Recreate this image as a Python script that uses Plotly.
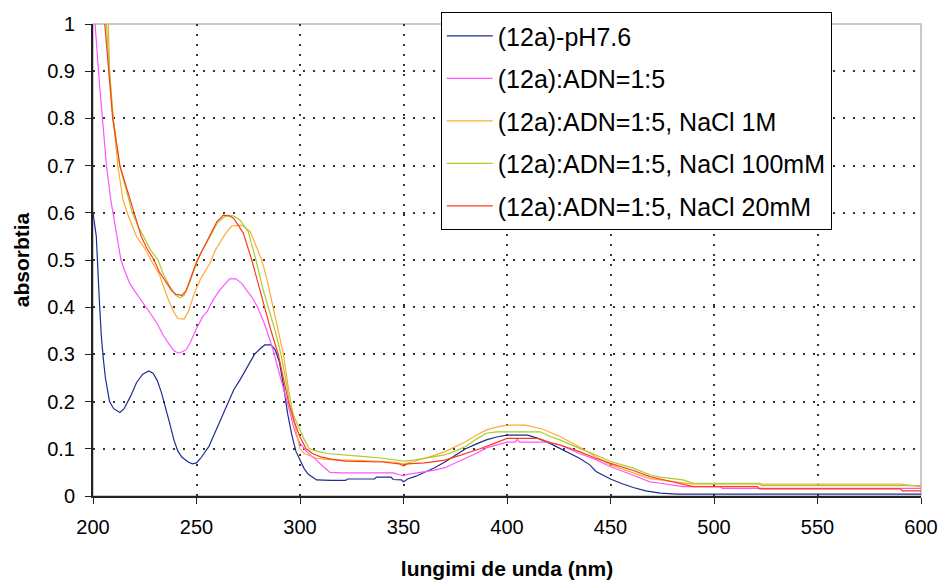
import plotly.graph_objects as go

# UV-Vis absorption spectra of compound (12a) with DNA at different NaCl concentrations

wl_ph76 = [200, 201.6, 203, 204, 205, 206, 208, 210, 213, 215, 218, 221, 224, 227, 229, 231, 233, 235,
           237, 239, 241, 243, 246, 248, 250, 252, 254, 256, 258, 260, 263, 265.4, 268, 271, 274, 276,
           278, 281, 283, 286, 288, 290, 292, 294, 296, 298, 300, 302, 304, 306, 308, 315, 322, 323,
           336, 337, 344, 345, 349, 350, 352, 356, 360, 365, 370, 375, 380, 385, 390, 395, 400, 410,
           415, 420, 425, 430, 435, 440, 443, 450, 455, 461, 467, 474, 482, 520, 600]
abs_ph76 = [0.60, 0.55, 0.42, 0.34, 0.29, 0.25, 0.20, 0.185, 0.177, 0.185, 0.21, 0.24, 0.258, 0.265, 0.26,
            0.245, 0.22, 0.19, 0.155, 0.12, 0.095, 0.082, 0.072, 0.068, 0.07, 0.08, 0.092, 0.105, 0.125,
            0.145, 0.175, 0.20, 0.225, 0.246, 0.268, 0.285, 0.30, 0.313, 0.32, 0.32, 0.31, 0.285, 0.235,
            0.175, 0.13, 0.095, 0.076, 0.058, 0.046, 0.039, 0.034, 0.033, 0.033, 0.036, 0.036, 0.04, 0.04,
            0.035, 0.034, 0.03, 0.036, 0.042, 0.05, 0.06, 0.072, 0.086, 0.10, 0.11, 0.119, 0.125, 0.129,
            0.129, 0.122, 0.113, 0.102, 0.092, 0.08, 0.066, 0.052, 0.036, 0.027, 0.018, 0.011, 0.006,
            0.004, 0.004, 0.004]

wl_adn = [200, 201, 203, 204.7, 206.5, 208.5, 209.7, 211.5, 213.5, 215.5, 217.7, 220, 222.5, 225.6, 228,
          231, 234, 237, 239, 241, 243, 245, 247, 250, 253, 255, 258, 261, 264, 266, 269, 272, 274, 277,
          279.5, 281.5, 284, 287, 290, 292.8, 295, 296.8, 298.5, 300, 303, 306, 308, 311, 314.5, 320, 345,
          348, 350, 352, 360, 365, 370, 375, 380, 385, 390, 395, 400, 404, 405, 406, 420, 425.6, 435, 443,
          450, 461, 469, 474, 485, 503, 504, 600]
abs_adn = [1.05, 1.0, 0.88, 0.80, 0.70, 0.63, 0.60, 0.55, 0.50, 0.475, 0.451, 0.435, 0.42, 0.40, 0.385,
           0.365, 0.34, 0.32, 0.308, 0.303, 0.305, 0.31, 0.325, 0.355, 0.38, 0.39, 0.415, 0.435, 0.45, 0.46,
           0.46, 0.45, 0.437, 0.42, 0.40, 0.38, 0.35, 0.309, 0.26, 0.218, 0.18, 0.147, 0.125, 0.112, 0.095,
           0.083, 0.076, 0.063, 0.05, 0.049, 0.049, 0.045, 0.043, 0.046, 0.051, 0.055, 0.06, 0.07, 0.08,
           0.09, 0.102, 0.108, 0.114, 0.114, 0.12, 0.114, 0.114, 0.108, 0.09, 0.077, 0.062, 0.044, 0.03,
           0.027, 0.02, 0.02, 0.016, 0.016]

wl_nacl1m = [200, 204, 207.4, 208, 209.8, 212, 214.5, 216.5, 221, 225, 228, 232, 236, 239, 241, 244, 246,
             249, 252, 256.5, 259, 261.5, 264, 267, 272, 276, 279, 281.5, 284, 287, 290, 292, 294, 295.5,
             297, 299, 300, 302, 305, 308, 312, 318, 325, 335, 345, 350, 355, 360, 365, 370, 375, 380,
             385, 390, 395, 400, 409, 412.7, 417, 425.6, 435, 443, 450, 461, 469, 474, 490, 590, 600]
abs_nacl1m = [1.25, 1.1, 1.0, 0.9, 0.8, 0.7, 0.627, 0.60, 0.55, 0.525, 0.50, 0.47, 0.42, 0.39, 0.376,
              0.375, 0.39, 0.43, 0.46, 0.493, 0.52, 0.539, 0.556, 0.572, 0.574, 0.56, 0.528, 0.50, 0.46,
              0.40, 0.34, 0.30, 0.24, 0.20, 0.16, 0.12, 0.10, 0.09, 0.085, 0.08, 0.078, 0.076, 0.076,
              0.074, 0.072, 0.068, 0.073, 0.08, 0.086, 0.094, 0.104, 0.115, 0.128, 0.14, 0.146, 0.15, 0.15,
              0.146, 0.142, 0.126, 0.104, 0.083, 0.066, 0.049, 0.037, 0.034, 0.025, 0.025, 0.02]

wl_nacl100 = [200, 206.5, 208, 209.7, 212.9, 216, 219, 222, 225, 228, 231.4, 234, 237, 240, 242, 244, 246,
              249, 252, 256, 260, 263, 265, 268, 271, 275, 278.7, 282, 284.7, 288, 290.8, 293, 294.8, 297,
              300, 302, 304.5, 308, 313, 320, 330, 340, 348, 350, 355, 360, 365, 370, 375, 380, 385, 390,
              395, 400, 416, 420.8, 425.6, 435, 443, 450, 461, 469, 474, 485, 490, 522, 523, 600]
abs_nacl100 = [1.3, 1.0, 0.9, 0.8, 0.7, 0.65, 0.60, 0.57, 0.545, 0.52, 0.50, 0.47, 0.445, 0.425, 0.42,
               0.425, 0.445, 0.48, 0.515, 0.545, 0.578, 0.59, 0.595, 0.593, 0.585, 0.56, 0.50, 0.44, 0.40,
               0.35, 0.30, 0.25, 0.20, 0.17, 0.14, 0.12, 0.10, 0.095, 0.09, 0.087, 0.084, 0.08, 0.075,
               0.074, 0.076, 0.08, 0.083, 0.087, 0.095, 0.105, 0.12, 0.133, 0.136, 0.136, 0.136, 0.126,
               0.119, 0.101, 0.087, 0.073, 0.059, 0.045, 0.04, 0.034, 0.027, 0.027, 0.022, 0.022]

wl_nacl20 = [200, 205.8, 207.9, 209.5, 213, 218, 220, 223.3, 226, 229.5, 232, 235, 238, 240, 243, 245, 247,
             250, 255, 259.8, 263, 266, 268, 272.6, 276.7, 280, 283, 286, 289.5, 292, 294.4, 297, 300, 303,
             306, 310, 315, 322, 340, 348, 350, 352, 360, 365, 370, 375, 380, 387, 393, 400, 415, 420.8,
             425.6, 435, 443, 450, 461, 469, 474, 490, 521, 522, 590, 591, 600]
abs_nacl20 = [1.3, 1.0, 0.9, 0.8, 0.7, 0.627, 0.60, 0.55, 0.525, 0.50, 0.475, 0.455, 0.435, 0.427, 0.425,
              0.435, 0.46, 0.496, 0.539, 0.581, 0.595, 0.593, 0.588, 0.557, 0.50, 0.445, 0.40, 0.35, 0.30,
              0.25, 0.20, 0.16, 0.125, 0.10, 0.09, 0.083, 0.078, 0.074, 0.072, 0.068, 0.064, 0.068, 0.07,
              0.073, 0.076, 0.083, 0.09, 0.10, 0.11, 0.122, 0.122, 0.113, 0.108, 0.094, 0.08, 0.069, 0.054,
              0.041, 0.036, 0.02, 0.02, 0.015, 0.015, 0.011, 0.011]

series_names = ["(12a)-pH7.6", "(12a):ADN=1:5", "(12a):ADN=1:5, NaCl 1M",
                "(12a):ADN=1:5, NaCl 100mM", "(12a):ADN=1:5, NaCl 20mM"]
series_x = [wl_ph76, wl_adn, wl_nacl1m, wl_nacl100, wl_nacl20]
series_y = [abs_ph76, abs_adn, abs_nacl1m, abs_nacl100, abs_nacl20]
series_colors = ["#1f2d8c", "#ff55ff", "#ffaa33", "#a8cc2a", "#ff3a1a"]

x_ticks = [200, 250, 300, 350, 400, 450, 500, 550, 600]
y_ticks = [0, 0.1, 0.2, 0.3, 0.4, 0.5, 0.6, 0.7, 0.8, 0.9, 1]

FONT = "Liberation Sans, Arial, sans-serif"

fig = go.Figure()
for i, (name, xs, ys, col) in enumerate(zip(series_names, series_x, series_y, series_colors)):
    fig.add_trace(go.Scatter(
        x=xs, y=ys, name=name, mode="lines",
        line=dict(color=col, width=1.2),
        legendgroup=f"g{i}",
    ))

axis_common = dict(
    showline=True, linecolor="#222222", linewidth=2,
    ticks="outside", ticklen=6, tickcolor="#222222", tickwidth=1,
    showgrid=True, gridcolor="#333333", gridwidth=1.5, griddash="2px,8px",
    zeroline=False, automargin=False,
    tickfont=dict(family=FONT, size=20, color="#000000"),
)

fig.update_xaxes(
    range=[200, 600], tickvals=x_ticks, ticktext=[str(v) for v in x_ticks],
    title=dict(text="<b>lungimi de unda (nm)</b>", font=dict(family=FONT, size=21, color="#000000"),
               standoff=29),
    ticklabelstandoff=6,
    **axis_common,
)
fig.update_yaxes(
    range=[0, 1], tickvals=y_ticks, ticktext=[f"{v:g}" for v in y_ticks],
    title=dict(text="<b>absorbtia</b>", font=dict(family=FONT, size=21, color="#000000"), standoff=12),
    ticklabelstandoff=6,
    **axis_common,
)

# thin grey frame along the top and right of the plotting area
fig.add_shape(type="rect", xref="paper", yref="paper", x0=0, y0=0, x1=1, y1=1,
              line=dict(color="#b8b8b8", width=1.5), layer="below")

fig.update_layout(
    width=941, height=580,
    margin=dict(l=93, r=20, t=24, b=84),
    paper_bgcolor="white", plot_bgcolor="white",
    font=dict(family=FONT, color="#000000"),
    showlegend=True,
    legend=dict(
        x=0.42, y=1.025, xanchor="left", yanchor="top",
        bgcolor="white", bordercolor="#000000", borderwidth=1,
        font=dict(family=FONT, size=25, color="#000000"),
        tracegroupgap=7, itemwidth=46,
    ),
)

fig.write_html("out.html")
